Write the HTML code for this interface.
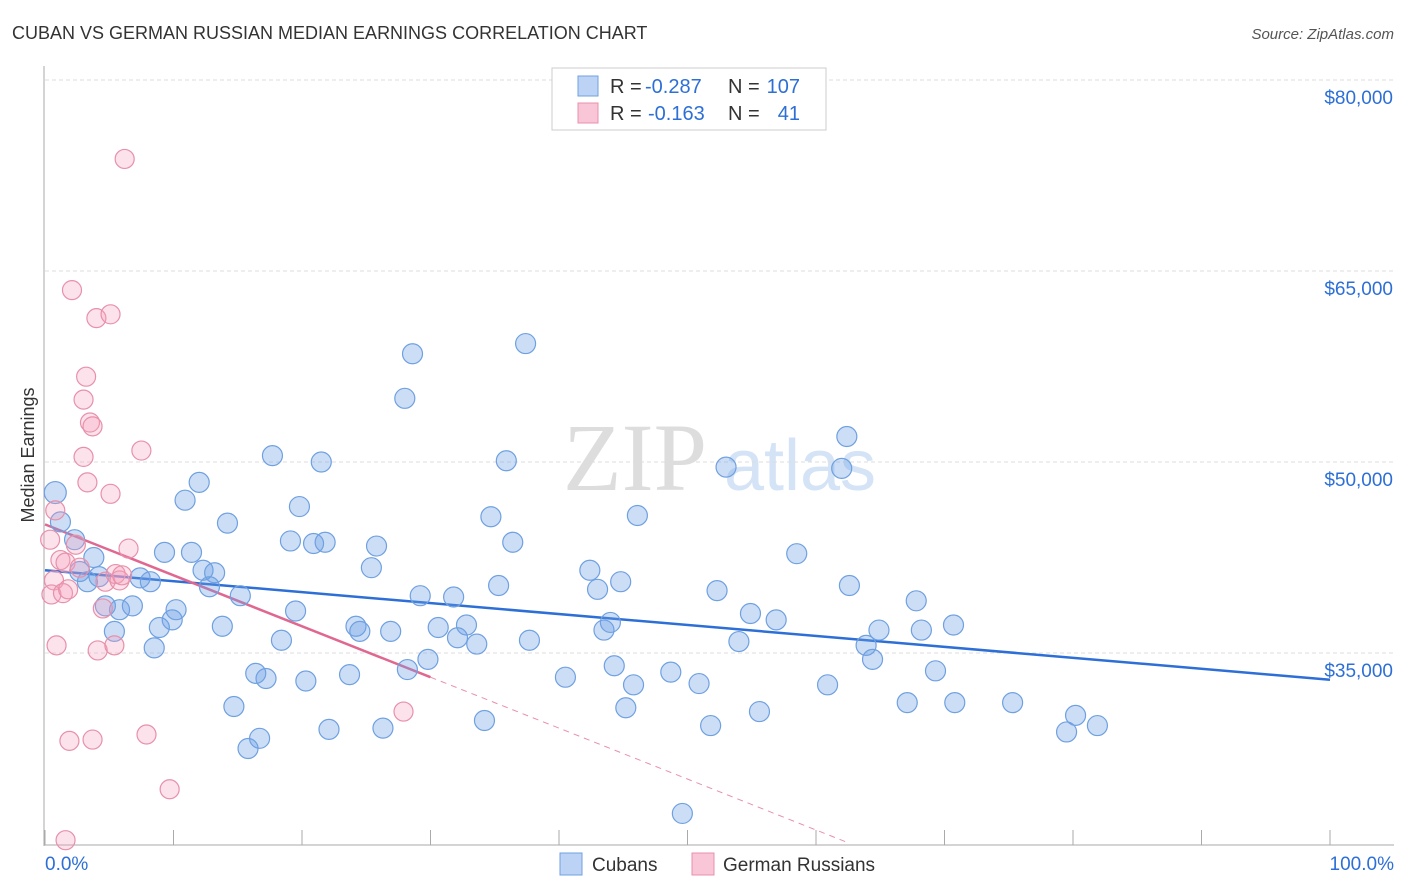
<!DOCTYPE html>
<html><head><meta charset="utf-8"><style>
body{margin:0;background:#fff;font-family:"Liberation Sans",sans-serif;}
svg{display:block}
</style></head><body>
<svg id="chart" width="1406" height="892">
<text x="12" y="39" font-size="18" fill="#333">CUBAN VS GERMAN RUSSIAN MEDIAN EARNINGS CORRELATION CHART</text>
<text x="1394" y="39" font-size="15" fill="#555" font-style="italic" text-anchor="end">Source: ZipAtlas.com</text>
<text x="635" y="490" font-size="96" fill="#ddd" font-family="Liberation Serif,serif" text-anchor="middle">ZIP</text>
<text x="800" y="490" font-size="72" fill="#d4e3f6" text-anchor="middle">atlas</text>
<g id="grid"></g><g id="axes"></g><g id="trend"></g><g id="pts"></g>
<text x="34" y="455" font-size="18" fill="#333" text-anchor="middle" transform="rotate(-90 34 455)">Median Earnings</text>
<g>
<rect x="552" y="68" width="274" height="62" fill="#fff" stroke="#ccc"/>
<rect x="578" y="76" width="20" height="20" fill="#bcd3f5" stroke="#6fa0e0"/>
<text x="610" y="93" font-size="20" fill="#333">R =</text>
<text x="645" y="93" font-size="20" fill="#2d6fd6">-0.287</text>
<text x="728" y="93" font-size="20" fill="#333">N =</text>
<text x="800" y="93" font-size="20" fill="#2d6fd6" text-anchor="end">107</text>
<rect x="578" y="103" width="20" height="20" fill="#f8c6d6" stroke="#e890aa"/>
<text x="610" y="120" font-size="20" fill="#333">R =</text>
<text x="648" y="120" font-size="20" fill="#2d6fd6">-0.163</text>
<text x="728" y="120" font-size="20" fill="#333">N =</text>
<text x="800" y="120" font-size="20" fill="#2d6fd6" text-anchor="end">41</text>
</g>
<g>
<rect x="560" y="853" width="22" height="22" fill="#bcd3f5" stroke="#6fa0e0"/>
<text x="592" y="871" font-size="19" fill="#333">Cubans</text>
<rect x="692" y="853" width="22" height="22" fill="#f8c6d6" stroke="#e890aa"/>
<text x="723" y="871" font-size="19" fill="#333">German Russians</text>
</g>
</svg>
<script>
const yTicks=[80000,65000,50000,35000];
const yTickLabels=["$80,000","$65,000","$50,000","$35,000"];
const xTickLabels=["0.0%","100.0%"];
const cubanX=[0.8,1.2,2.3,3.8,2.7,3.3,4.2,4.7,5.8,6.8,5.4,7.4,8.2,8.5,8.9,9.3,9.9,10.2,10.9,11.4,12.0,12.3,12.8,13.2,13.8,14.2,14.7,15.2,15.8,16.4,16.7,17.2,17.7,18.4,19.1,19.5,19.8,20.3,20.9,21.5,21.8,22.1,23.7,24.2,24.5,25.4,25.8,26.3,26.9,28.0,28.2,28.6,29.2,29.8,30.6,31.8,32.1,32.8,33.6,34.2,34.7,35.3,35.9,36.4,37.4,37.7,40.5,42.4,43.0,43.5,44.0,44.3,44.8,45.2,45.8,46.1,48.7,49.6,50.9,51.8,52.3,53.0,54.0,54.9,55.6,56.9,58.5,60.9,62.0,62.4,62.6,63.9,64.4,64.9,67.1,67.8,68.2,69.3,70.7,70.8,75.3,79.5,80.2,81.9];
const cubanY=[47.6,45.3,43.9,42.5,41.4,40.6,41.0,38.7,38.4,38.7,36.7,40.9,40.6,35.4,37.0,42.9,37.6,38.4,47.0,42.9,48.4,41.5,40.2,41.3,37.1,45.2,30.8,39.5,27.5,33.4,28.3,33.0,50.5,36.0,43.8,38.3,46.5,32.8,43.6,50.0,43.7,29.0,33.3,37.1,36.7,41.7,43.4,29.1,36.7,55.0,33.7,58.5,39.5,34.5,37.0,39.4,36.2,37.2,35.7,29.7,45.7,40.3,50.1,43.7,59.3,36.0,33.1,41.5,40.0,36.8,37.4,34.0,40.6,30.7,32.5,45.8,33.5,22.4,32.6,29.3,39.9,49.6,35.9,38.1,30.4,37.6,42.8,32.5,49.5,52.0,40.3,35.6,34.5,36.8,31.1,39.1,36.8,33.6,37.2,31.1,31.1,28.8,30.1,29.3];
const grX=[0.4,0.8,0.7,0.5,0.9,1.2,1.4,1.6,1.6,1.9,1.8,2.1,2.4,2.7,3.0,3.0,3.2,3.3,3.5,3.7,3.7,4.0,4.1,4.5,4.7,5.1,5.1,5.4,5.5,5.8,6.0,6.2,6.5,7.5,7.9,9.7,27.9];
const grY=[43.9,46.2,40.7,39.6,35.6,42.3,39.7,42.1,20.3,28.1,40.0,63.5,43.5,41.7,54.9,50.4,56.7,48.4,53.1,52.8,28.2,61.3,35.2,38.5,40.6,61.6,47.5,35.6,41.2,40.7,41.1,73.8,43.2,50.9,28.6,24.3,30.4];
const cubanTrend=[41.5,32.9];
const grTrend=[45.1,-0.4];
const NS="http://www.w3.org/2000/svg";
const X=p=>45+p*12.85;
const Y=v=>80+(80000-v)*191/15000;
const Yk=k=>Y(k*1000);
function mk(tag,attrs,parent){const e=document.createElementNS(NS,tag);for(const k in attrs)e.setAttribute(k,attrs[k]);parent.appendChild(e);return e;}
const grid=document.getElementById('grid'),axes=document.getElementById('axes'),trend=document.getElementById('trend'),pts=document.getElementById('pts');
yTicks.forEach((v,i)=>{
 const l=mk('line',{x1:45,x2:1394,y1:Y(v),y2:Y(v),stroke:'#ddd','stroke-dasharray':'4,3'},grid);
 
 
 const t=mk('text',{x:1393,y:Y(v)+24,'font-size':19,fill:'#2d6fd6','text-anchor':'end'},grid);
 t.textContent=yTickLabels[i];
 
 
});
const ya=mk('line',{x1:44,x2:44,y1:66,y2:846,stroke:'#aaa'},axes);


const xa=mk('line',{x1:44,x2:1394,y1:845,y2:845,stroke:'#aaa'},axes);


for(let i=0;i<=10;i++){const tk=mk('line',{x1:X(i*10),x2:X(i*10),y1:830,y2:845,stroke:'#aaa'},axes);
 
 }
[[0,'start',45],[100,'end',1394]].forEach((d,i)=>{const t=mk('text',{x:d[2],y:870,'font-size':19,fill:'#2d6fd6','text-anchor':d[1]},axes);t.textContent=xTickLabels[i];
 
 });
const bl=mk('line',{x1:X(0),y1:Yk(cubanTrend[0]),x2:X(100),y2:Yk(cubanTrend[1]),stroke:'#2d6fd6','stroke-width':2.5},trend);


const pv=p=>grTrend[0]+grTrend[1]*p;
const pl=mk('line',{x1:X(0),y1:Yk(pv(0)),x2:X(30),y2:Yk(pv(30)),stroke:'#e06890','stroke-width':2.5},trend);


const pd=mk('line',{x1:X(30),y1:Yk(pv(30)),x2:X(62.6),y2:Yk(pv(62.6)),stroke:'#e890aa','stroke-width':1,'stroke-dasharray':'6,5'},trend);


cubanX.forEach((p,i)=>{const c=mk('circle',{cx:X(p),cy:Yk(cubanY[i]),r:i==0?11:10,fill:'rgba(110,160,230,0.35)',stroke:'#6fa0e0','stroke-width':1.2},pts);
 
 });
grX.forEach((p,i)=>{const c=mk('circle',{cx:X(p),cy:Yk(grY[i]),r:9.5,fill:'rgba(245,160,190,0.3)',stroke:'#e890aa','stroke-width':1.2},pts);
 
 });
</script>
</body></html>
